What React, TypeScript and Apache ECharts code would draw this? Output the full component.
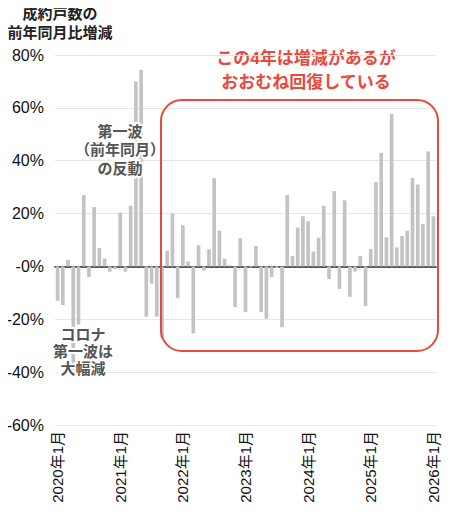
import React, { useEffect, useRef } from 'react';
import * as echarts from 'echarts';

// 2020年1月 〜 2026年1月 の月次
const years = [2020, 2021, 2022, 2023, 2024, 2025, 2026];
const months = years.flatMap((y) =>
  y === 2026 ? [`${y}年1月`] : Array.from({ length: 12 }, (_, i) => `${y}年${i + 1}月`)
);

// 成約戸数の前年同月比増減（%）
const values2020 = [-13, -14.6, 2.5, -42, -22, 27, -4, 22.5, 7, 3, -2, -1];
const values2021 = [20.4, -2, 23, 70, 74.4, -19, -6.5, -19, -27, 5.9, 20, -12];
const values2022 = [15.6, 1.9, -25.4, 8, -1.5, 6.5, 33.4, 13.5, 2.9, 0.4, -15.4, 10.7];
const values2023 = [-17.3, -0.4, 7.7, -17.3, -19.8, -4, -0.6, -23, 27, 4, 14.7, 19];
const values2024 = [17.1, 5.6, 10.9, 23, -4.75, 28.5, -8.5, 25, -11.5, -1.9, 4, -15];
const values2025 = [6.6, 32, 43, 11, 57.7, 7.2, 11.5, 13.5, 33.5, 31, 16, 43.5];
const values2026 = [19];
const changes = [
  ...values2020, ...values2021, ...values2022, ...values2023,
  ...values2024, ...values2025, ...values2026,
];

const yMin = -60;
const yMax = 80;
const yStep = 20;

const titleLines = ['成約戸数の', '前年同月比増減'];
const noteRebound = ['第一波', '（前年同月）', 'の反動'];
const noteCovid = ['コロナ', '第一波は', '大幅減'];
const noteRecovery = ['この4年は増減があるが', 'おおむね回復している'];

const FONT = "'Liberation Sans', 'Noto Sans CJK JP', sans-serif";
const RED = '#e8483d';

const App: React.FC = () => {
  const chartRef = useRef<HTMLDivElement>(null);

  useEffect(() => {
    if (!chartRef.current) return;
    const chart = echarts.init(chartRef.current, null, { renderer: 'svg' });

    const option: any = {
      animation: false,
      backgroundColor: '#ffffff',
      grid: {
        left: 55,
        right: 14,
        top: 55,
        bottom: 90,
        containLabel: false,
        outerBoundsMode: 'none',
      },
      xAxis: {
        type: 'category',
        data: months,
        boundaryGap: true,
        axisLine: { lineStyle: { color: '#222', width: 1.5 } },
        axisTick: { show: false },
        axisLabel: {
          interval: (i: number) => i % 12 === 0,
          rotate: 90,
          margin: 6,
          fontSize: 15,
          color: '#111',
          fontFamily: FONT,
        },
        splitLine: { show: false },
      },
      yAxis: {
        type: 'value',
        min: yMin,
        max: yMax,
        interval: yStep,
        axisLine: { show: false },
        axisTick: { show: false },
        axisLabel: {
          margin: 11,
          fontSize: 16,
          color: '#111',
          fontFamily: FONT,
          formatter: (v: number) => (v === 0 ? '-0%' : `${v}%`),
        },
        splitLine: { lineStyle: { color: '#e6e6e6', width: 1 } },
      },
      series: [
        {
          type: 'bar',
          data: changes,
          barCategoryGap: '30%',
          itemStyle: { color: '#c3c3c3' },
          silent: true,
        },
      ],
      graphic: [
        {
          type: 'text',
          x: 60,
          y: 4,
          style: {
            text: titleLines.join('\n'),
            fontSize: 15,
            fontWeight: 'bold',
            fill: '#222',
            fontFamily: FONT,
            align: 'center',
            lineHeight: 19,
          },
        },
        {
          type: 'text',
          x: 120,
          y: 122,
          z: 10,
          style: {
            text: noteRebound.join('\n'),
            fontSize: 15,
            fontWeight: 'bold',
            fill: '#555',
            fontFamily: FONT,
            align: 'center',
            lineHeight: 18.5,
            stroke: '#fff',
            lineWidth: 4,
          },
        },
        {
          type: 'text',
          x: 83,
          y: 326,
          z: 10,
          style: {
            text: noteCovid.join('\n'),
            fontSize: 15,
            fontWeight: 'bold',
            fill: '#555',
            fontFamily: FONT,
            align: 'center',
            lineHeight: 17,
            stroke: '#fff',
            lineWidth: 4,
          },
        },
        {
          type: 'rect',
          z: 10,
          shape: { x: 161, y: 100, width: 277, height: 251, r: 21 },
          style: { fill: 'none', stroke: RED, lineWidth: 2 },
        },
        {
          type: 'text',
          x: 306,
          y: 46,
          style: {
            text: noteRecovery.join('\n'),
            fontSize: 17,
            fontWeight: 'bold',
            fill: RED,
            fontFamily: FONT,
            align: 'center',
            lineHeight: 24,
          },
        },
      ],
    };

    chart.setOption(option);
    return () => chart.dispose();
  }, []);

  return <div ref={chartRef} style={{ width: 450, height: 515, margin: -8 }} />;
};

export default App;
